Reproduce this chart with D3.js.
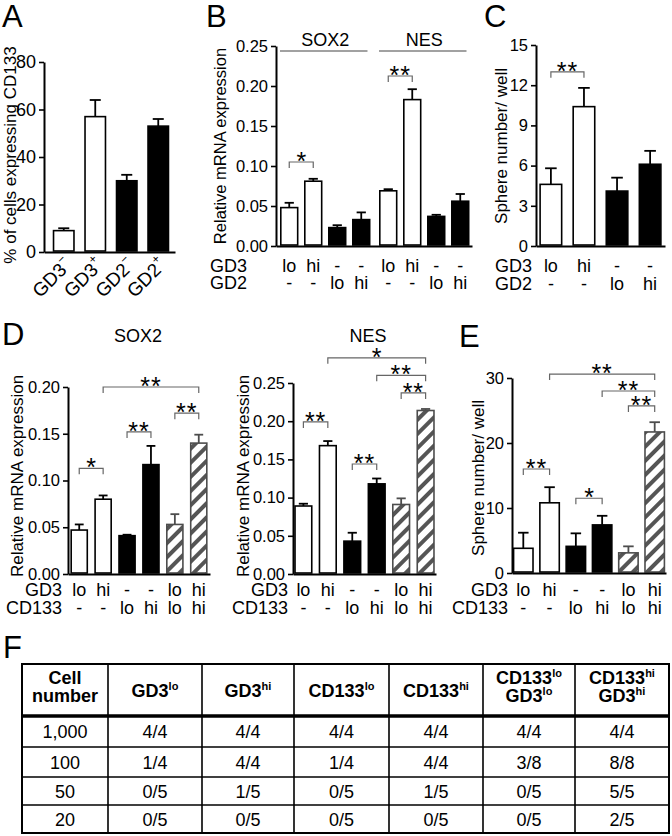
<!DOCTYPE html>
<html><head><meta charset="utf-8">
<script src="https://cdn.jsdelivr.net/npm/d3@7"></script>
<style>
body{margin:0;background:#fff}
svg{display:block;font-family:"Liberation Sans",Arial,Helvetica,sans-serif}
</style>
</head><body>
<svg id="fig" width="672" height="836"></svg>
<script>
// ---------------- DATA ----------------
// Panel A
const aLabels = ["GD3", "GD3", "GD2", "GD2"];
const aSigns = ["\u2212", "+", "\u2212", "+"];
const aValues = [9, 57, 30, 53];
const aErrors = [1, 7, 2.5, 3];
const aTypes = ["open", "open", "filled", "filled"];
const aTicks = [0, 20, 40, 60, 80];

// Panel B
const bGenes = ["SOX2", "NES"];
const bSOX2 = [0.048, 0.081, 0.023, 0.033];
const bSOX2Err = [0.006, 0.003, 0.003, 0.009];
const bNES = [0.069, 0.183, 0.037, 0.056];
const bNESErr = [0.002, 0.013, 0.002, 0.009];
const bTypes = ["open", "open", "filled", "filled"];
const bRowGD3 = ["lo", "hi", "-", "-"];
const bRowGD2 = ["-", "-", "lo", "hi"];
const bTicks = [0, 0.05, 0.10, 0.15, 0.20, 0.25];
const bSig = [
  {gene: "SOX2", a: 0, b: 1, level: 0.105, label: "*"},
  {gene: "NES", a: 0, b: 1, level: 0.2125, label: "**"}
];

// Panel C
const cValues = [4.6, 10.4, 4.1, 6.1];
const cErrors = [1.2, 1.4, 1.0, 1.0];
const cTypes = ["open", "open", "filled", "filled"];
const cRowGD3 = ["lo", "hi", "-", "-"];
const cRowGD2 = ["-", "-", "lo", "hi"];
const cTicks = [0, 3, 6, 9, 12, 15];
const cSig = [{a: 0, b: 1, level: 13.0, label: "**"}];

// Panels D / E
const deTypes = ["open", "open", "filled", "filled", "hatched", "hatched"];
const deRowGD3 = ["lo", "hi", "-", "-", "lo", "hi"];
const deRowCD133 = ["-", "-", "lo", "hi", "lo", "hi"];
const dSOX2 = [0.047, 0.080, 0.041, 0.117, 0.053, 0.140];
const dSOX2Err = [0.006, 0.004, 0.001, 0.020, 0.011, 0.009];
const dSOX2Ticks = [0, 0.05, 0.10, 0.15, 0.20];
const dSOX2Sig = [
  {a: 0, b: 1, level: 0.113, label: "*"},
  {a: 2, b: 3, level: 0.152, label: "**"},
  {a: 4, b: 5, level: 0.172, label: "**"},
  {a: 1, b: 5, level: 0.200, label: "**"}
];
const dNES = [0.089, 0.168, 0.043, 0.118, 0.091, 0.214];
const dNESErr = [0.003, 0.006, 0.011, 0.007, 0.008, 0.002];
const dNESTicks = [0, 0.05, 0.10, 0.15, 0.20, 0.25];
const dNESSig = [
  {a: 0, b: 1, level: 0.199, label: "**"},
  {a: 2, b: 3, level: 0.144, label: "**"},
  {a: 4, b: 5, level: 0.237, label: "**"},
  {a: 3, b: 5, level: 0.260, label: "**"},
  {a: 1, b: 5, level: 0.283, label: "*"}
];
const eValues = [3.8, 10.8, 4.1, 7.4, 3.1, 21.7];
const eErrors = [2.4, 2.4, 2.0, 1.4, 1.0, 1.5];
const eTicks = [0, 10, 20, 30];
const eSig = [
  {a: 0, b: 1, level: 16, label: "**"},
  {a: 2, b: 3, level: 11.5, label: "*"},
  {a: 4, b: 5, level: 25.7, label: "**"},
  {a: 3, b: 5, level: 28, label: "**"},
  {a: 1, b: 5, level: 30.6, label: "**"}
];

// Panel F table
const tableHeader = [
  [["Cell", ""], ["number", ""]],
  [["GD3", "lo"]],
  [["GD3", "hi"]],
  [["CD133", "lo"]],
  [["CD133", "hi"]],
  [["CD133", "lo"], ["GD3", "lo"]],
  [["CD133", "hi"], ["GD3", "hi"]]
];
const cellNumbers = ["1,000", "100", "50", "20"];
const tableValues = [
  ["4/4", "4/4", "4/4", "4/4", "4/4", "4/4"],
  ["1/4", "4/4", "1/4", "4/4", "3/8", "8/8"],
  ["0/5", "1/5", "0/5", "1/5", "0/5", "5/5"],
  ["0/5", "0/5", "0/5", "0/5", "0/5", "2/5"]
];

// ---------------- STYLE ----------------
const STY = {
  open: {fill: "#fff", stroke: "#000"},
  filled: {fill: "#000", stroke: "#000"},
  hatched: {fill: "url(#hatch)", stroke: "#4d4d4d"}
};
const TICK_FS = 16.5, LAB_FS = 16.5, ROW_FS = 18, LETTER_FS = 31, STAR_FS = 25;

const svg = d3.select("#fig");
const defs = svg.append("defs");
const pat = defs.append("pattern").attr("id", "hatch").attr("patternUnits", "userSpaceOnUse")
  .attr("width", 10).attr("height", 10).attr("patternTransform", "rotate(45)");
pat.append("rect").attr("width", 10).attr("height", 10).attr("fill", "#fff");
pat.append("rect").attr("x", 0).attr("y", 0).attr("width", 4).attr("height", 10).attr("fill", "#555");

function letter(t, x, y) {
  svg.append("text").attr("x", x).attr("y", y).attr("font-size", LETTER_FS).text(t);
}

function yAxis(g, y, ticks, fmt, fs) {
  const ax = g.append("g").attr("transform", `translate(${y.axisX},0)`)
    .call(d3.axisLeft(y).tickValues(ticks).tickFormat(fmt).tickSize(5).tickPadding(3).tickSizeOuter(0));
  ax.select(".domain").attr("stroke-width", 2);
  ax.selectAll(".tick line").attr("stroke-width", 1.6);
  ax.selectAll(".tick text").attr("font-size", fs || TICK_FS).attr("font-family", null).attr("fill", "#000");
  ax.attr("font-family", null);
  return ax;
}

function xAxisLine(g, x0, x1, yPos) {
  const s = d3.scaleLinear().domain([0, 1]).range([x0, x1]);
  const ax = g.append("g").attr("transform", `translate(0,${yPos})`)
    .call(d3.axisBottom(s).tickValues([]).tickSizeOuter(0));
  ax.select(".domain").attr("stroke-width", 2);
}

function bars(g, xPos, bw, y, values, errors, types) {
  const capW = bw * 0.5;
  const gg = g.append("g");
  values.forEach((v, i) => {
    const st = STY[types[i]];
    const cx = xPos(i) + bw / 2;
    gg.append("line").attr("x1", cx).attr("x2", cx).attr("y1", y(v)).attr("y2", y(v + errors[i]))
      .attr("stroke", st.stroke).attr("stroke-width", 1.8);
    gg.append("line").attr("x1", cx - capW / 2).attr("x2", cx + capW / 2)
      .attr("y1", y(v + errors[i])).attr("y2", y(v + errors[i]))
      .attr("stroke", st.stroke).attr("stroke-width", 1.8);
  });
  gg.selectAll("rect").data(values).join("rect")
    .attr("x", (d, i) => xPos(i) + 0.8).attr("width", bw - 1.6)
    .attr("y", d => y(d)).attr("height", d => y(0) - y(d) - 1)
    .attr("fill", (d, i) => STY[types[i]].fill)
    .attr("stroke", (d, i) => STY[types[i]].stroke)
    .attr("stroke-width", 1.6);
}

function brackets(g, center, y, sigs) {
  sigs.forEach(s => {
    const yy = y(s.level), x1 = center(s.a), x2 = center(s.b);
    g.append("path").attr("d", `M${x1},${yy + 6}V${yy}H${x2}V${yy + 6}`)
      .attr("fill", "none").attr("stroke", "#666").attr("stroke-width", 1.2);
    g.append("text").attr("x", (x1 + x2) / 2).attr("y", yy + 8).attr("text-anchor", "middle")
      .attr("font-size", STAR_FS).attr("letter-spacing", s.label.length > 1 ? 1 : 0)
      .text(s.label);
  });
}

function yLabel(g, t, x, yc, fs) {
  g.append("text").attr("transform", `translate(${x},${yc}) rotate(-90)`)
    .attr("text-anchor", "middle").attr("font-size", fs || LAB_FS).text(t);
}

function rowLabels(g, center, rows, names, nameX, ys) {
  rows.forEach((r, ri) => {
    if (names[ri]) g.append("text").attr("x", nameX).attr("y", ys[ri]).attr("text-anchor", "end")
      .attr("font-size", ROW_FS).text(names[ri]);
    r.forEach((v, i) => {
      g.append("text").attr("x", center(i)).attr("y", ys[ri]).attr("text-anchor", "middle")
        .attr("font-size", ROW_FS).text(v);
    });
  });
}

// ---------------- PANEL A ----------------
{
  const g = svg.append("g");
  letter("A", 2, 27);
  const y = d3.scaleLinear().domain([0, 80]).range([252, 62]); y.axisX = 44;
  const x = d3.scaleBand().domain(d3.range(aValues.length)).range([48, 174]).paddingInner(0.3).paddingOuter(0.15);
  bars(g, x, x.bandwidth(), y, aValues, aErrors, aTypes);
  xAxisLine(g, 44, 175, 252);
  yAxis(g, y, aTicks, d3.format("d"), 18);
  yLabel(g, "% of cells expressing CD133", 16, 155, 17);
  aLabels.forEach((l, i) => {
    const t = g.append("text").attr("text-anchor", "end").attr("font-size", 19)
      .attr("transform", `translate(${x(i) + x.bandwidth() / 2 + 9},${266}) rotate(-45)`);
    t.append("tspan").text(l);
    t.append("tspan").attr("font-size", 12).attr("dy", -9).text(aSigns[i]);
  });
}

// ---------------- PANEL B ----------------
{
  const g = svg.append("g");
  letter("B", 206, 27);
  const y = d3.scaleLinear().domain([0, 0.25]).range([246, 46]); y.axisX = 276;
  const outer = d3.scaleBand().domain(bGenes).range([280, 469.5]).paddingInner(0.086).paddingOuter(0);
  const inner = d3.scaleBand().domain(d3.range(4)).range([0, outer.bandwidth()]).paddingInner(0.23).paddingOuter(0);
  const bw = inner.bandwidth();
  const geneVals = {SOX2: [bSOX2, bSOX2Err], NES: [bNES, bNESErr]};
  bGenes.forEach(gn => {
    const xp = i => outer(gn) + inner(i);
    bars(g, xp, bw, y, geneVals[gn][0], geneVals[gn][1], bTypes);
    g.append("line").attr("x1", outer(gn)).attr("x2", outer(gn) + outer.bandwidth() - 3)
      .attr("y1", 51).attr("y2", 51).attr("stroke", "#444").attr("stroke-width", 1.2);
    g.append("text").attr("x", outer(gn) + outer.bandwidth() / 2).attr("y", 46)
      .attr("text-anchor", "middle").attr("font-size", 18).text(gn);
    brackets(g, i => xp(i) + bw / 2, y, bSig.filter(s => s.gene === gn));
    rowLabels(g, i => xp(i) + bw / 2, [bRowGD3, bRowGD2], ["", ""], 0, [272, 289]);
  });
  g.append("text").attr("x", 210).attr("y", 272).attr("font-size", ROW_FS).text("GD3");
  g.append("text").attr("x", 210).attr("y", 289).attr("font-size", ROW_FS).text("GD2");
  xAxisLine(g, 276, 472, 246);
  yAxis(g, y, bTicks, d3.format(".2f"));
  yLabel(g, "Relative mRNA expression", 226, 146);
}

// ---------------- PANEL C ----------------
{
  const g = svg.append("g");
  letter("C", 484, 27);
  const y = d3.scaleLinear().domain([0, 15]).range([246, 45]); y.axisX = 536;
  const x = d3.scaleBand().domain(d3.range(cValues.length)).range([536, 665]).paddingInner(0.3).paddingOuter(0.1);
  bars(g, x, x.bandwidth(), y, cValues, cErrors, cTypes);
  brackets(g, i => x(i) + x.bandwidth() / 2, y, cSig);
  xAxisLine(g, 536, 665, 246);
  yAxis(g, y, cTicks, d3.format("d"));
  yLabel(g, "Sphere number/ well", 507, 146, 17);
  rowLabels(g, i => x(i) + x.bandwidth() / 2, [cRowGD3, cRowGD2], ["GD3", "GD2"], 532, [272, 290]);
}

// ---------------- PANEL D ----------------
letter("D", 2, 345);
{
  const g = svg.append("g");
  const y = d3.scaleLinear().domain([0, 0.20]).range([574, 387]); y.axisX = 68;
  const x = d3.scaleBand().domain(d3.range(6)).range([68, 210]).paddingInner(0.26).paddingOuter(0.1);
  const c = i => x(i) + x.bandwidth() / 2;
  bars(g, x, x.bandwidth(), y, dSOX2, dSOX2Err, deTypes);
  brackets(g, c, y, dSOX2Sig);
  xAxisLine(g, 68, 210, 574);
  yAxis(g, y, dSOX2Ticks, d3.format(".2f"));
  yLabel(g, "Relative mRNA expression", 23, 476, 17);
  g.append("text").attr("x", 138).attr("y", 342).attr("text-anchor", "middle").attr("font-size", 18).text("SOX2");
  rowLabels(g, c, [deRowGD3, deRowCD133], ["GD3", "CD133"], 62, [596, 614]);
}
{
  const g = svg.append("g");
  const y = d3.scaleLinear().domain([0, 0.25]).range([574, 383]); y.axisX = 293;
  const x = d3.scaleBand().domain(d3.range(6)).range([293, 436]).paddingInner(0.25).paddingOuter(0.05);
  const c = i => x(i) + x.bandwidth() / 2;
  bars(g, x, x.bandwidth(), y, dNES, dNESErr, deTypes);
  brackets(g, c, y, dNESSig);
  xAxisLine(g, 293, 436, 574);
  yAxis(g, y, dNESTicks, d3.format(".2f"));
  yLabel(g, "Relative mRNA expression", 249, 476, 17);
  g.append("text").attr("x", 368).attr("y", 342).attr("text-anchor", "middle").attr("font-size", 18).text("NES");
  rowLabels(g, c, [deRowGD3, deRowCD133], ["GD3", "CD133"], 288, [596, 614]);
}

// ---------------- PANEL E ----------------
letter("E", 459, 347);
{
  const g = svg.append("g");
  const y = d3.scaleLinear().domain([0, 30]).range([573, 378]); y.axisX = 512;
  const x = d3.scaleBand().domain(d3.range(6)).range([512, 666]).paddingInner(0.2).paddingOuter(0.03);
  const c = i => x(i) + x.bandwidth() / 2;
  bars(g, x, x.bandwidth(), y, eValues, eErrors, deTypes);
  brackets(g, c, y, eSig);
  xAxisLine(g, 512, 666, 573);
  yAxis(g, y, eTicks, d3.format("d"));
  yLabel(g, "Sphere number/ well", 484, 478, 17);
  rowLabels(g, c, [deRowGD3, deRowCD133], ["GD3", "CD133"], 508, [596, 614]);
}

// ---------------- PANEL F ----------------
letter("F", 3, 658);
{
  const g = svg.append("g");
  const colEdges = [22, 108, 202, 294, 389, 483, 575, 669];
  const rowEdges = [664, 716, 747, 777, 805, 833];
  colEdges.slice(1, -1).forEach(cx => g.append("line").attr("x1", cx).attr("x2", cx)
    .attr("y1", rowEdges[0]).attr("y2", rowEdges[rowEdges.length - 1]).attr("stroke", "#000").attr("stroke-width", 1.6));
  rowEdges.slice(2, -1).forEach(ry => g.append("line").attr("x1", colEdges[0]).attr("x2", colEdges[colEdges.length - 1])
    .attr("y1", ry).attr("y2", ry).attr("stroke", "#000").attr("stroke-width", 1.6));
  g.append("line").attr("x1", colEdges[0]).attr("x2", colEdges[colEdges.length - 1])
    .attr("y1", rowEdges[1]).attr("y2", rowEdges[1]).attr("stroke", "#000").attr("stroke-width", 3.5);
  g.append("rect").attr("x", colEdges[0]).attr("y", rowEdges[0])
    .attr("width", colEdges[colEdges.length - 1] - colEdges[0]).attr("height", rowEdges[rowEdges.length - 1] - rowEdges[0])
    .attr("fill", "none").attr("stroke", "#000").attr("stroke-width", 2);
  tableHeader.forEach((lines, ci) => {
    const cx = (colEdges[ci] + colEdges[ci + 1]) / 2;
    const ys = lines.length === 1 ? [697] : [684, 702];
    lines.forEach((ln, li) => {
      const t = g.append("text").attr("x", cx).attr("y", ys[li]).attr("text-anchor", "middle")
        .attr("font-size", 18).attr("font-weight", "bold");
      t.append("tspan").text(ln[0]);
      if (ln[1]) t.append("tspan").attr("font-size", 11).attr("dy", -7).text(ln[1]);
    });
  });
  cellNumbers.forEach((cn, ri) => {
    const yc = (rowEdges[ri + 1] + rowEdges[ri + 2]) / 2 + 6.5;
    g.append("text").attr("x", (colEdges[0] + colEdges[1]) / 2).attr("y", yc).attr("text-anchor", "middle")
      .attr("font-size", 18).text(cn);
    tableValues[ri].forEach((v, ci) => {
      g.append("text").attr("x", (colEdges[ci + 1] + colEdges[ci + 2]) / 2).attr("y", yc)
        .attr("text-anchor", "middle").attr("font-size", 18).text(v);
    });
  });
}
</script>
</body></html>
